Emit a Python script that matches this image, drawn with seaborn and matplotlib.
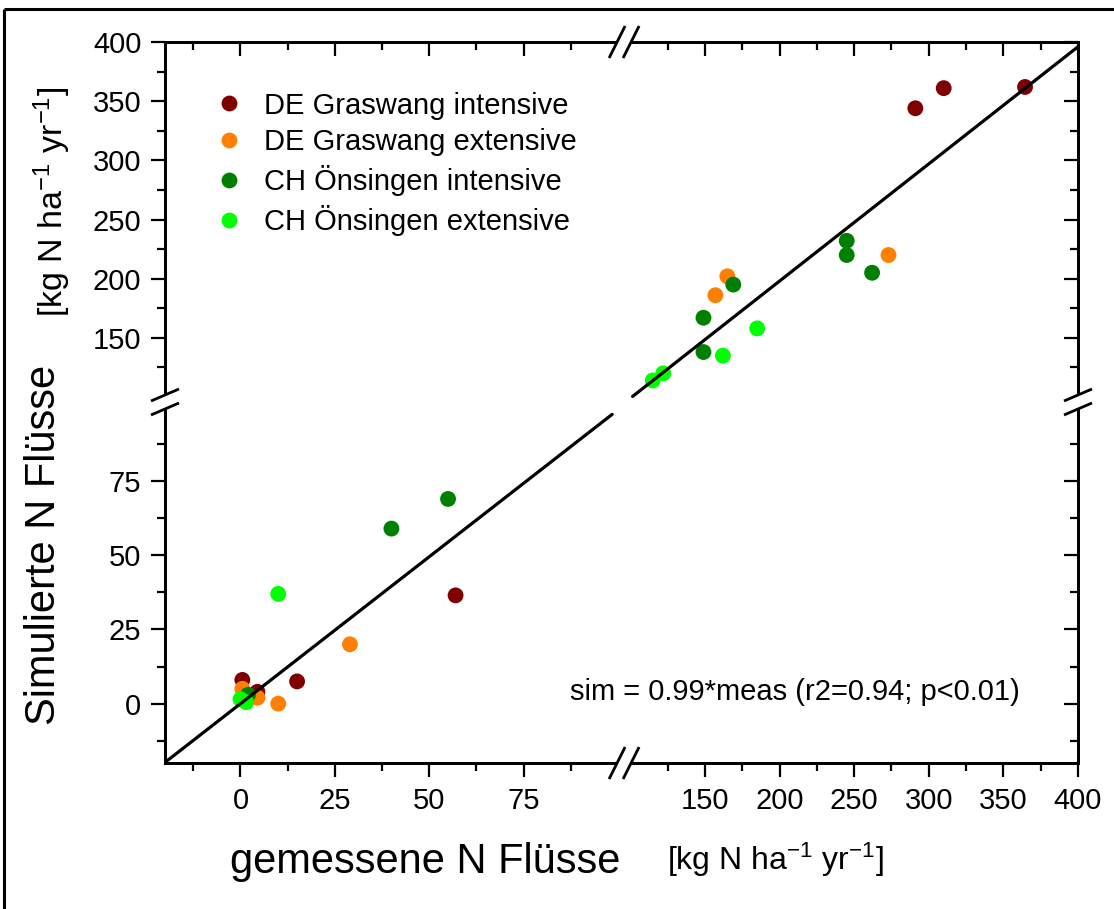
import numpy as np
import pandas as pd
import matplotlib
matplotlib.use("Agg")
import matplotlib.pyplot as plt
from matplotlib.lines import Line2D
from matplotlib.ticker import FixedLocator, NullFormatter, FixedFormatter
import seaborn as sns

# ---------------- data ----------------
sites = ["DE Graswang intensive", "DE Graswang extensive",
         "CH Önsingen intensive", "CH Önsingen extensive"]
colors = ["#800000", "#FF8000", "#008000", "#00FF00"]

gi_meas = [364.5, 310, 291, 57, 15, 0.5, 4.5]
gi_sim = [362, 361, 344, 36.5, 7.5, 8, 4]
ge_meas = [273, 165, 157, 29, 10, 0.5, 4.5]
ge_sim = [220, 202, 186, 20, 0, 5, 2]
oi_meas = [245, 245, 262, 169, 149, 149, 55, 40, 2]
oi_sim = [232, 220, 205, 195, 167, 138, 69, 59, 3]
oe_meas = [185, 162, 122, 115, 10, 0, 1.5]
oe_sim = [158, 135, 120, 114, 37, 1.5, 0.5]

slope = 0.99
fit_text = "sim = 0.99*meas (r2=0.94; p<0.01)"

low_ticks = [0, 25, 50, 75]
low_minor = [-12.5, 12.5, 37.5, 62.5, 87.5]
high_ticks = [150, 200, 250, 300, 350, 400]
high_minor = [125, 175, 225, 275, 325, 375]

df = pd.concat([
    pd.DataFrame({"meas": m, "sim": s, "site": n})
    for m, s, n in [(gi_meas, gi_sim, sites[0]), (ge_meas, ge_sim, sites[1]),
                    (oi_meas, oi_sim, sites[2]), (oe_meas, oe_sim, sites[3])]
], ignore_index=True)

# ---------------- broken-axis scale ----------------
LO, BRK, HI = -20.0, 100.0, 400.0
FX1, FX2 = 0.496, 0.5097
FY1, FY2 = 0.4938, 0.5076


def make_scale(f1, f2):
    def fwd(v):
        v = np.asarray(v, dtype=float)
        lo = (v - LO) / (BRK - LO) * f1
        hi = f2 + (v - BRK) / (HI - BRK) * (1 - f2)
        return np.where(v <= BRK, lo, hi)

    def inv(t):
        t = np.asarray(t, dtype=float)
        lo = LO + t / f1 * (BRK - LO)
        hi = BRK + (t - f2) / (1 - f2) * (HI - BRK)
        out = np.where(t <= f1, lo, np.where(t >= f2, hi, BRK))
        return np.where(np.isnan(t), np.nan, out)
    return fwd, inv


# ---------------- style ----------------
sns.set_style("ticks")
plt.rcParams["font.family"] = ["Liberation Sans", "DejaVu Sans"]
plt.rcParams["mathtext.fontset"] = "custom"
plt.rcParams["mathtext.rm"] = "Liberation Sans"
plt.rcParams["mathtext.it"] = "Liberation Sans:italic"
plt.rcParams["mathtext.bf"] = "Liberation Sans:bold"
plt.rcParams["text.color"] = "black"
plt.rcParams["axes.labelcolor"] = "black"
plt.rcParams["xtick.color"] = "black"
plt.rcParams["ytick.color"] = "black"
plt.rcParams["axes.edgecolor"] = "black"
plt.rcParams["axes.grid"] = False

W, H = 1114, 909
fig = plt.figure(figsize=(W / 100, H / 100), dpi=100)
AX_L, AX_B, AX_W, AX_H = 165, 763, 913, 721
ax = fig.add_axes([AX_L / W, 1 - AX_B / H, AX_W / W, AX_H / H])

ax.set_xscale("function", functions=make_scale(FX1, FX2))
ax.set_yscale("function", functions=make_scale(FY1, FY2))

sns.scatterplot(data=df, x="meas", y="sim", hue="site", hue_order=sites,
                palette=colors, s=130, linewidth=0, ax=ax, zorder=3)

# regression line in two pieces (gap at the break)
xs_lo = np.linspace(LO, 98.5, 60)
xs_hi = np.linspace(101.5, HI, 60)
for xs in (xs_lo, xs_hi):
    sns.lineplot(x=xs, y=slope * xs, color="black", linewidth=2.3,
                 ax=ax, legend=False, zorder=4, sort=False, errorbar=None)

ax.set_xlim(LO, HI)
ax.set_ylim(LO, HI)

major = low_ticks + high_ticks
minor = low_minor + high_minor
labels = [str(v) for v in major]


def set_ticks(axis, with_labels):
    axis.set_major_locator(FixedLocator(major))
    axis.set_minor_locator(FixedLocator(minor))
    axis.set_major_formatter(FixedFormatter(labels) if with_labels else NullFormatter())
    axis.set_minor_formatter(NullFormatter())


set_ticks(ax.xaxis, True)
set_ticks(ax.yaxis, True)
ax.tick_params(which="both", direction="out", width=1.6, colors="black",
               top=False, right=False)
ax.tick_params(which="major", length=10, labelsize=21, pad=7)
ax.tick_params(which="minor", length=5.8)

# inward ticks on top and right via twin axes
axt = ax.twiny()
axt.set_xscale("function", functions=make_scale(FX1, FX2))
axt.set_xlim(LO, HI)
set_ticks(axt.xaxis, False)
axt.tick_params(axis="x", which="both", direction="in", width=1.6, colors="black",
                top=True, bottom=False, labeltop=False, labelbottom=False)
axt.tick_params(axis="x", which="major", length=10)
axt.tick_params(axis="x", which="minor", length=5.8)
axt.tick_params(axis="y", left=False, right=False, labelleft=False, labelright=False)

axr = ax.twinx()
axr.set_yscale("function", functions=make_scale(FY1, FY2))
axr.set_ylim(LO, HI)
set_ticks(axr.yaxis, False)
axr.tick_params(axis="y", which="both", direction="in", width=1.6, colors="black",
                right=True, left=False, labelright=False, labelleft=False)
axr.tick_params(axis="y", which="major", length=10)
axr.tick_params(axis="y", which="minor", length=5.8)
axr.tick_params(axis="x", top=False, bottom=False, labeltop=False, labelbottom=False)

for a in (ax, axt, axr):
    a.grid(False)
    for sp in a.spines.values():
        sp.set_visible(True)
        sp.set_linewidth(2.0)
        sp.set_color("black")

ax.set_xlabel("")
ax.set_ylabel("")

# legend
sns.move_legend(ax, "upper left",
                bbox_to_anchor=((198 - AX_L) / AX_W, 1 - (80 - 42) / AX_H),
                frameon=False, title=None, fontsize=21, labelspacing=0.3,
                handlelength=1.3, handletextpad=0.55, borderaxespad=0)
leg = ax.get_legend()
for t in leg.get_texts():
    t.set_color("black")

# fit text
ax.text((1020 - AX_L) / AX_W, (AX_B - 692) / AX_H, fit_text, transform=ax.transAxes,
        ha="right", va="center", fontsize=21, color="black")

# axis titles
fig.text(44 / W, 1 - 545 / H, "Simulierte N Flüsse", rotation=90,
         ha="center", va="center", fontsize=30)
fig.text(52 / W, 1 - 202 / H, r"[kg N ha$^{-1}$ yr$^{-1}$]", rotation=90,
         ha="center", va="center", fontsize=24.5)
fig.text(425 / W, 1 - 862 / H, "gemessene N Flüsse",
         ha="center", va="center", fontsize=30)
fig.text(775 / W, 1 - 860 / H, r"[kg N ha$^{-1}$ yr$^{-1}$]",
         ha="center", va="center", fontsize=23)


# ---------------- break marks ----------------
def fpt(px, py):
    return px / W, 1 - py / H


def seg(p0, p1, color="black", lw=2.0, z=10):
    (x0, y0), (x1, y1) = fpt(*p0), fpt(*p1)
    fig.add_artist(Line2D([x0, x1], [y0, y1], color=color, lw=lw, zorder=z,
                          transform=fig.transFigure, solid_capstyle="butt"))


bx = AX_L + AX_W * (FX1 + FX2) / 2
by = AX_B - AX_H * (FY1 + FY2) / 2
for yy in (AX_B, AX_B - AX_H):
    seg((bx - 7, yy), (bx + 7, yy), color="white", lw=4, z=9)
    for dx in (-7, 7):
        seg((bx + dx - 8, yy + 16), (bx + dx + 8, yy - 16))
for xx in (AX_L, AX_L + AX_W):
    seg((xx, by - 7), (xx, by + 7), color="white", lw=4, z=9)
    for dy in (-7, 7):
        seg((xx - 14, by + dy + 6), (xx + 14, by + dy - 6))

# figure frame (top and left edges)
seg((4, 9), (W, 9), lw=2.2)
seg((4, 9), (4, H), lw=2.2)

fig.savefig("out.png", dpi=100)
